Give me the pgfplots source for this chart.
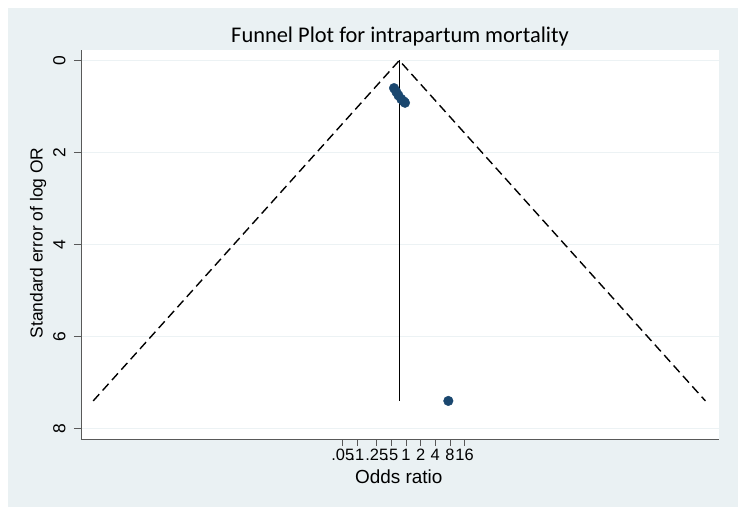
\documentclass[border=0pt]{standalone}
\usepackage{pgfplots}
\pgfplotsset{compat=1.18}
\usepackage{fontspec}
\setmainfont{Liberation Sans}
\newfontfamily\titlefont{Carlito}
\definecolor{stbg}{RGB}{234,241,243}
\definecolor{stnavy}{RGB}{26,71,111}
\definecolor{stgrid}{RGB}{236,242,244}
\begin{document}
\begin{tikzpicture}[x=1bp,y=1bp]
\fill[white] (0,0) rectangle (745,516);
\fill[stbg] (8,9) rectangle (738,508);
\node[font=\titlefont\fontsize{22.5}{22.5}\selectfont, anchor=center] at (400,479) {Funnel Plot for intrapartum mortality};
\begin{axis}[
  at={(81bp,77bp)}, anchor=south west,
  scale only axis, width=638bp, height=389bp,
  xmode=log,
  xmin=2.05e-7, xmax=2.76e6,
  ymin=-0.228, ymax=8.228, y dir=reverse,
  axis background/.style={fill=white},
  axis line style={draw=none},
  xtick={0.05,0.1,0.25,0.5,1,2,4,8,16},
  xticklabels={.05,.1,.25,.5,1,2,4,8,16},
  ytick={0,2,4,6,8},
  yticklabels={0,2,4,6,8},
  tick align=outside,
  major tick length=7bp,
  tick style={black!65, line width=0.8bp},
  xtick pos=bottom, ytick pos=left,
  ymajorgrids, major grid style={stgrid, line width=1.2bp},
  xticklabel style={font=\fontsize{16.5}{16.5}\selectfont, yshift=0bp},
  yticklabel style={font=\fontsize{17.5}{17.5}\selectfont, rotate=90, anchor=south},
  yticklabel shift=5bp,
  xlabel={Odds ratio},
  ylabel={Standard error of log OR},
  x label style={font=\fontsize{19}{19}\selectfont, at={(axis description cs:0.498,-0.0977)}, anchor=center},
  y label style={font=\fontsize{17.5}{17.5}\selectfont, at={(axis description cs:-0.0674,0.504)}, anchor=center, rotate=0},
  clip=false,
]
\addplot[black, line width=1.4bp, dash pattern=on 9bp off 5bp] coordinates {(3.655e-7,7.40) (0.7276,0) (1.448e6,7.40)};
\addplot[black, line width=1.3bp] coordinates {(0.7276,0) (0.7276,7.40)};
\addplot[only marks, mark=*, mark size=4.8bp, stnavy, mark options={draw=stnavy, fill=stnavy}] coordinates {
(0.566,0.60) (0.63,0.68) (0.70,0.76) (0.80,0.84) (0.90,0.89) (0.954,0.92) (7.43,7.40)};
\draw[black!65, line width=0.8bp] (axis description cs:0,0) -- (axis description cs:0,1);
\draw[black!65, line width=0.8bp] (axis description cs:0,0) -- (axis description cs:1,0);
\end{axis}
\end{tikzpicture}
\end{document}
